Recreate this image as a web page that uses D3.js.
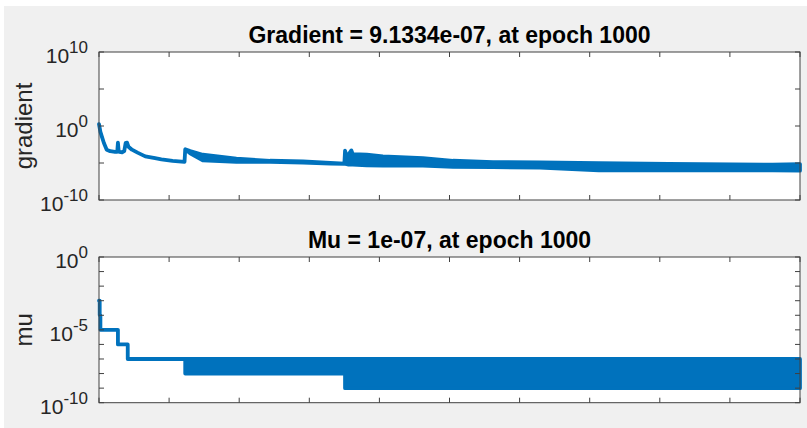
<!DOCTYPE html>
<html>
<head>
<meta charset="utf-8">
<script src="https://cdn.jsdelivr.net/npm/d3@7"></script>
<style>
  body { margin: 0; background: #ffffff; }
  svg { display: block; font-family: "Liberation Sans", Arial, Helvetica, sans-serif; }
</style>
</head>
<body>
<svg id="chart" width="807" height="428"></svg>
<script>
// epoch ticks (no labels shown, like plotperform)
const epochTicks = [0, 100, 200, 300, 400, 500, 600, 700, 800, 900, 1000];

// gradient panel
const gradTicks = [1e-10, 1e-5, 1, 1e5, 1e10];
const gradLabelExps = [-10, 0, 10];
const gradEpochs = [0, 2, 4, 7, 11, 16, 23, 26, 27, 28, 29, 33, 36, 38, 39, 40, 42, 47, 55, 66, 80, 89, 105, 122,
  123, 130, 148, 196, 244, 291, 330, 350, 351, 353, 355, 360, 362, 382, 405, 462, 505, 562, 629, 713, 813, 961, 1000];
const gradHigh = [1.8, 0.16, 0.04, 5e-3, 6.3e-4, 4.0e-4, 3.2e-4, 3.2e-4, 5.6e-3, 5.0e-4, 3.2e-4, 2.8e-4, 4.0e-4, 5.0e-3, 2.5e-3, 5.6e-3, 1.6e-3,
  6.3e-4, 2.5e-4, 7.9e-5, 4.5e-5, 3.2e-5, 2.0e-5, 1.4e-5,
  7.0e-4, 4.0e-4, 1.3e-4, 3.8e-5, 2.0e-5, 1.7e-5, 1.0e-5, 7.9e-6, 4.6e-4, 1.0e-4, 1.0e-4, 5.0e-4, 1.6e-4, 1.3e-4, 7.9e-5, 4.6e-5, 2.0e-5, 1.3e-5, 1.2e-5, 9.8e-6, 7.6e-6, 5.9e-6, 7.1e-6];
const gradLow = [1.8, 0.16, 0.04, 5e-3, 6.3e-4, 4.0e-4, 3.2e-4, 3.2e-4, 5.6e-3, 5.0e-4, 3.2e-4, 2.8e-4, 4.0e-4, 5.0e-3, 2.5e-3, 5.6e-3, 1.6e-3,
  6.3e-4, 2.5e-4, 7.9e-5, 4.5e-5, 3.2e-5, 2.0e-5, 1.4e-5,
  7.0e-4, 2.0e-4, 2.3e-5, 1.4e-5, 1.4e-5, 1.1e-5, 8.3e-6, 7.9e-6, 7.9e-6, 7.0e-6, 6.3e-6, 6.3e-6, 6.3e-6, 4.9e-6, 4.5e-6, 4.5e-6, 3.0e-6, 2.8e-6, 2.4e-6, 1.0e-6, 1.0e-6, 1.0e-6, 9.1334e-7];

// mu panel
const muTicks = [1e-10, 1e-9, 1e-8, 1e-7, 1e-6, 1e-5, 1e-4, 1e-3, 1e-2, 1e-1, 1];
const muLabelExps = [-10, -5, 0];
const muEpochs = [0, 1, 2, 27, 41, 123, 351, 1000];
const muHigh = [1e-3, 1e-4, 1e-5, 1e-6, 1e-7, 1e-7, 1e-7, 1e-7];
const muLow = [1e-3, 1e-4, 1e-5, 1e-6, 1e-7, 1e-8, 1e-9, 1e-9];

const svg = d3.select("#chart");
const lineColor = "#0072bd";
const axisColor = "#404040";

// figure background
svg.append("rect")
  .attr("x", 4).attr("y", 6)
  .attr("width", 803).attr("height", 422)
  .attr("fill", "#f0f0f0");

const x = d3.scaleLinear().domain([0, 1000]).range([99, 800]);

function drawPanel(opts) {
  const y = d3.scaleLog().domain(opts.domain).range([opts.bottom, opts.top]);
  const g = svg.append("g");

  g.append("rect")
    .attr("x", x(0)).attr("y", opts.top)
    .attr("width", x(1000) - x(0)).attr("height", opts.bottom - opts.top)
    .attr("fill", "#ffffff");

  // data band / line
  const rows = opts.epochs.map((e, i) => ({ e: e, hi: opts.high[i], lo: opts.low[i] }));
  const area = d3.area()
    .x(d => x(d.e))
    .y0(d => y(d.lo))
    .y1(d => y(d.hi))
    .curve(opts.curve);
  g.append("path")
    .datum(rows)
    .attr("d", area)
    .attr("fill", lineColor)
    .attr("stroke", lineColor)
    .attr("stroke-width", 3.8)
    .attr("stroke-linejoin", "round");

  // ticks inward on all four sides
  const tl = 5;
  const axG = g.append("g").attr("stroke", axisColor).attr("stroke-width", 1);
  epochTicks.forEach(t => {
    axG.append("line").attr("x1", x(t)).attr("x2", x(t)).attr("y1", opts.bottom).attr("y2", opts.bottom - tl);
    axG.append("line").attr("x1", x(t)).attr("x2", x(t)).attr("y1", opts.top).attr("y2", opts.top + tl);
  });
  opts.ticks.forEach(t => {
    axG.append("line").attr("x1", x(0)).attr("x2", x(0) + tl).attr("y1", y(t)).attr("y2", y(t));
    axG.append("line").attr("x1", x(1000)).attr("x2", x(1000) - tl).attr("y1", y(t)).attr("y2", y(t));
  });
  axG.append("rect")
    .attr("x", x(0)).attr("y", opts.top)
    .attr("width", x(1000) - x(0)).attr("height", opts.bottom - opts.top)
    .attr("fill", "none");

  // tick labels 10^n
  opts.labelExps.forEach(p => {
    const txt = g.append("text")
      .attr("x", x(0) - 11)
      .attr("y", y(Math.pow(10, p)) + 11)
      .attr("text-anchor", "end")
      .attr("fill", "#262626")
      .style("font-size", "21px");
    txt.append("tspan").text("10");
    txt.append("tspan").attr("dy", -10).style("font-size", "17px").text(String(p));
  });

  // y label
  g.append("text")
    .attr("transform", `translate(32, ${(opts.top + opts.bottom) / 2}) rotate(-90)`)
    .attr("text-anchor", "middle")
    .attr("fill", "#262626")
    .style("font-size", "24px")
    .text(opts.ylabel);

  // title
  g.append("text")
    .attr("x", (x(0) + x(1000)) / 2)
    .attr("y", opts.top - 9.5)
    .attr("text-anchor", "middle")
    .attr("fill", "#000000")
    .style("font-size", "23px")
    .style("font-weight", "bold")
    .text(opts.title);
}

drawPanel({
  top: 52, bottom: 200, domain: [1e-10, 1e10],
  ticks: gradTicks, labelExps: gradLabelExps,
  epochs: gradEpochs, high: gradHigh, low: gradLow,
  curve: d3.curveLinear,
  ylabel: "gradient",
  title: "Gradient = 9.1334e-07, at epoch 1000"
});

drawPanel({
  top: 257, bottom: 402.7, domain: [1e-10, 1],
  ticks: muTicks, labelExps: muLabelExps,
  epochs: muEpochs, high: muHigh, low: muLow,
  curve: d3.curveStepAfter,
  ylabel: "mu",
  title: "Mu = 1e-07, at epoch 1000"
});
</script>
</body>
</html>
